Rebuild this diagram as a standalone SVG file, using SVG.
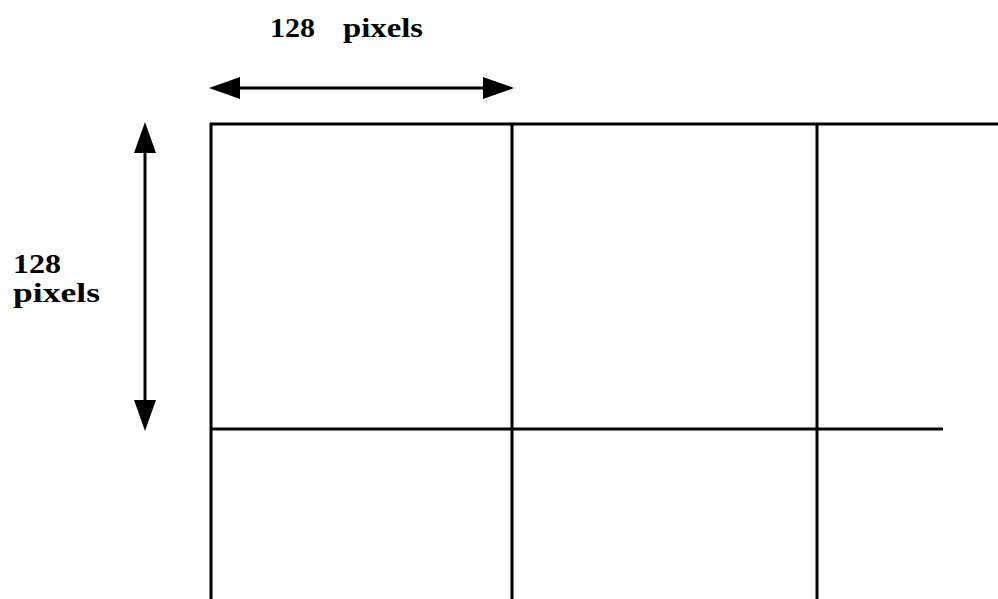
<svg xmlns="http://www.w3.org/2000/svg" width="998" height="599" viewBox="0 0 998 599">
<style>
.ln{stroke:#000;stroke-width:3;fill:none}
.lbl{font-family:"Liberation Serif","Times New Roman",serif;font-weight:bold;font-size:27px;fill:#000}
</style>
<rect width="998" height="599" fill="#fff"/>
<g id="grid">
<line class="ln" x1="210" y1="124" x2="998" y2="124"/>
<line class="ln" x1="210" y1="429" x2="943" y2="429"/>
<line class="ln" x1="211" y1="123" x2="211" y2="599"/>
<line class="ln" x1="512" y1="123" x2="512" y2="599"/>
<line class="ln" x1="817" y1="123" x2="817" y2="599"/>
</g>
<g id="connectors">
<line class="ln" x1="238" y1="88" x2="484" y2="88"/>
<path d="M209,88 L240,77 L240,99 Z" fill="#000"/>
<path d="M514,88 L483,77 L483,99 Z" fill="#000"/>
<line class="ln" x1="145" y1="150" x2="145" y2="402"/>
<path d="M145,122 L134,153 L156,153 Z" fill="#000"/>
<path d="M145,431 L134,400 L156,400 Z" fill="#000"/>
</g>
<g id="label-top">
<text class="lbl" x="270" y="37" textLength="45" lengthAdjust="spacingAndGlyphs">128</text>
<text class="lbl" x="343" y="37" textLength="80" lengthAdjust="spacingAndGlyphs">pixels</text>
</g>
<g id="label-left">
<text class="lbl" x="13" y="273" textLength="48" lengthAdjust="spacingAndGlyphs">128</text>
<text class="lbl" x="13" y="302" textLength="87" lengthAdjust="spacingAndGlyphs">pixels</text>
</g>
</svg>
